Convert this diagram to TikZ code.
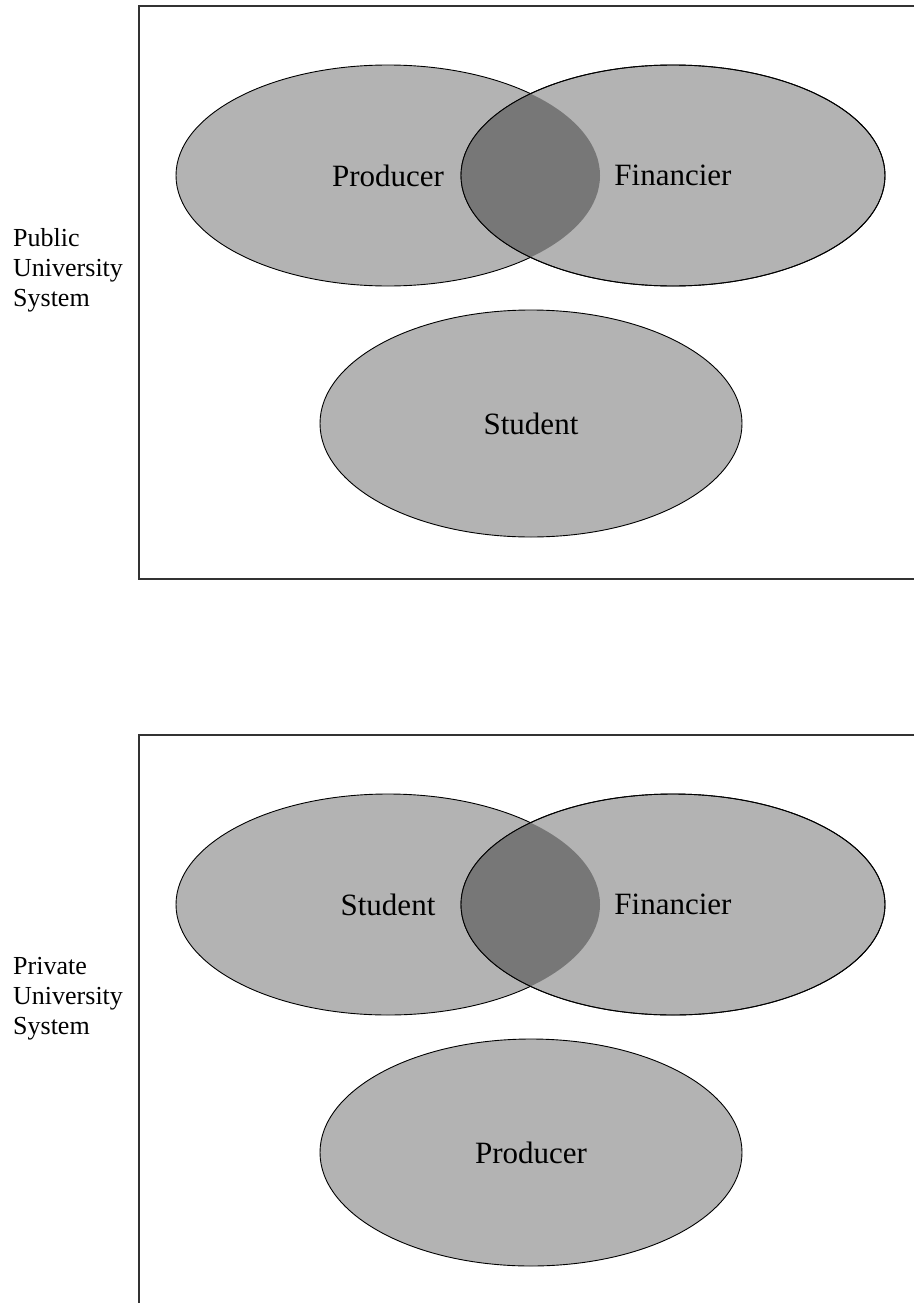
\documentclass[tikz,border=0pt]{standalone}
\usepackage{fontspec}
\setmainfont{Liberation Serif}
\usetikzlibrary{shapes.geometric}
\begin{document}
\begin{tikzpicture}[x=1pt,y=-1pt,
  frame/.style={draw=black!80,line width=1.5pt},
  ell/.style={ellipse,draw=black,line width=0.9pt,fill=ellgray,inner sep=0pt,font=\fontsize{31}{36}\selectfont},
  sidelabel/.style={anchor=north west,inner sep=0pt,align=left,font=\fontsize{26}{30}\selectfont}]
\definecolor{ellgray}{HTML}{B3B3B3}
\definecolor{lensgray}{HTML}{777777}
\useasboundingbox (0,0) rectangle (914,1303);
% top panel
\coordinate (t1) at (914,6);
\coordinate (t2) at (139,6);
\coordinate (t3) at (139,579);
\coordinate (t4) at (914,579);
\draw[frame] (t1) -- (t2) -- (t3) -- (t4);
\node[ell,minimum width=424pt,minimum height=221pt] (pprod) at (388,175.5) {Producer};
\node[ell,minimum width=424pt,minimum height=221pt] (pfin) at (673,175.5) {};
\begin{scope}
  \clip (pprod.center) ellipse [x radius=212,y radius=110.5];
  \fill[lensgray] (pfin.center) ellipse [x radius=212,y radius=110.5];
\end{scope}
\draw[line width=0.9pt] (pfin.center) ellipse [x radius=212,y radius=110.5];
\node[font=\fontsize{31}{36}\selectfont] (pfint) at (pfin.center) {Financier};
\node[ell,minimum width=422pt,minimum height=227pt] (pstu) at (531,423.5) {Student};
\node[sidelabel] (plab) at (13,228) {Public\\University\\System};
% bottom panel
\coordinate (b1) at (914,735);
\coordinate (b2) at (139,735);
\coordinate (b3) at (139,1310);
\draw[frame] (b1) -- (b2) -- (b3);
\node[ell,minimum width=424pt,minimum height=221pt] (qstu) at (388,904.5) {Student};
\node[ell,minimum width=424pt,minimum height=221pt] (qfin) at (673,904.5) {};
\begin{scope}
  \clip (qstu.center) ellipse [x radius=212,y radius=110.5];
  \fill[lensgray] (qfin.center) ellipse [x radius=212,y radius=110.5];
\end{scope}
\draw[line width=0.9pt] (qfin.center) ellipse [x radius=212,y radius=110.5];
\node[font=\fontsize{31}{36}\selectfont] (qfint) at (qfin.center) {Financier};
\node[ell,minimum width=422pt,minimum height=227pt] (qprod) at (531,1152.5) {Producer};
\node[sidelabel] (qlab) at (13,957) {Private\\University\\System};
\end{tikzpicture}
\end{document}
